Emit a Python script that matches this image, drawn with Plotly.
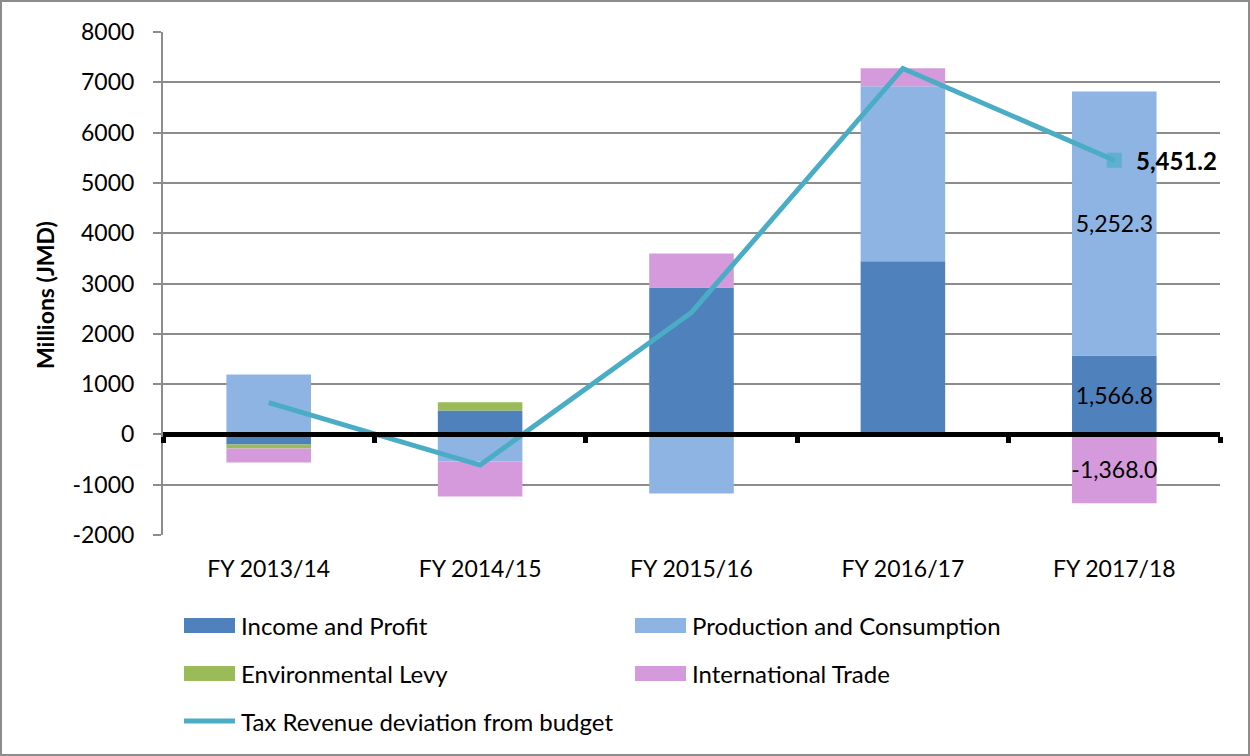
import plotly.graph_objects as go

categories = ["FY 2013/14", "FY 2014/15", "FY 2015/16", "FY 2016/17", "FY 2017/18"]
income_profit = [-200, 477, 2922, 3440, 1566.8]
production_consumption = [1193, -537, -1173, 3479, 5252.3]
environmental_levy = [-80, 160, 0, 0, 0]
international_trade = [-280, -696, 676, 358, -1368.0]
tax_revenue_deviation = [630, -610, 2425, 7276, 5451.2]
y_ticks = [-2000, -1000, 0, 1000, 2000, 3000, 4000, 5000, 6000, 7000, 8000]
y_tick_labels = [str(v) for v in y_ticks]

FONT = "Lato"
FS = 23
C_INC = "#4F81BD"
C_PROD = "#8EB4E3"
C_ENV = "#9BBB59"
C_INTL = "#D59ADC"
C_LINE = "#4BACC6"
C_GRID = "#8C8C8C"

def lab(vals, idx):
    return [f"{v:,.1f}" if i == idx else "" for i, v in enumerate(vals)]

fig = go.Figure()
bar_common = dict(width=0.4, textposition="inside", insidetextanchor="middle",
                  constraintext="none", textangle=0,
                  textfont=dict(family=FONT, size=FS, color="black"),
                  showlegend=False, hoverinfo="skip")
fig.add_trace(go.Bar(x=categories, y=income_profit, name="Income and Profit",
                     marker=dict(color=C_INC, line=dict(width=0)),
                     text=lab(income_profit, 4), **bar_common))
fig.add_trace(go.Bar(x=categories, y=production_consumption, name="Production and Consumption",
                     marker=dict(color=C_PROD, line=dict(width=0)),
                     text=lab(production_consumption, 4), **bar_common))
fig.add_trace(go.Bar(x=categories, y=environmental_levy, name="Environmental Levy",
                     marker=dict(color=C_ENV, line=dict(width=0)),
                     text=["" for _ in categories], **bar_common))
fig.add_trace(go.Bar(x=categories, y=international_trade, name="International Trade",
                     marker=dict(color=C_INTL, line=dict(width=0)),
                     text=lab(international_trade, 4), **bar_common))

n = len(categories)
fig.add_trace(go.Scatter(
    x=categories, y=tax_revenue_deviation, mode="lines+markers",
    line=dict(color=C_LINE, width=5),
    marker=dict(symbol="square", size=[0] * (n - 1) + [15], color=C_LINE, line=dict(width=0)),
    showlegend=False, hoverinfo="skip"))
fig.add_annotation(x=categories[-1], y=tax_revenue_deviation[-1],
                   text=f"<b>{tax_revenue_deviation[-1]:,.1f}</b>", showarrow=False,
                   xanchor="left", yanchor="middle", xshift=20,
                   font=dict(family=FONT, size=24, color="black"))

# dummy trace for the zero-crossing category axis
fig.add_trace(go.Scatter(x=[0], y=[0], xaxis="x2", mode="markers",
                         marker=dict(size=0, opacity=0), showlegend=False, hoverinfo="skip"))

ymin, ymax = -2000, 8000
zero_pos = (0 - ymin) / (ymax - ymin)

fig.update_layout(
    width=1250, height=756,
    margin=dict(l=163, r=30, t=32, b=221),
    paper_bgcolor="white", plot_bgcolor="white",
    barmode="relative",
    font=dict(family=FONT, size=FS, color="black"),
    xaxis=dict(type="category", range=[-0.5, n - 0.5], showgrid=False, showline=False,
               ticks="", tickfont=dict(family=FONT, size=FS), ticklabelstandoff=18,
               zeroline=False),
    xaxis2=dict(overlaying="x", anchor="free", position=zero_pos, range=[-0.5, n - 0.5],
                tickvals=[i - 0.5 for i in range(n + 1)], showticklabels=False,
                showline=True, linecolor="black", linewidth=5,
                ticks="outside", ticklen=6, tickwidth=5, tickcolor="black",
                showgrid=False, zeroline=False),
    yaxis=dict(range=[ymin, ymax], tickvals=y_ticks, ticktext=y_tick_labels,
               showgrid=True, gridcolor=C_GRID,
               gridwidth=2, showline=True, linecolor=C_GRID, linewidth=2,
               ticks="outside", ticklen=8, tickcolor=C_GRID, tickwidth=2,
               zeroline=False, tickfont=dict(family=FONT, size=FS), ticklabelstandoff=14),
)

# outer chart border and helpers
W, H = 1250, 756
pl, pt, pw, ph = 163, 32, 1250 - 163 - 30, 756 - 32 - 221
def px(x):
    return (x - pl) / pw
def py(y):
    return (pt + ph - y) / ph
fig.add_shape(type="rect", xref="paper", yref="paper", x0=px(1), x1=px(W - 1), y0=py(H - 1), y1=py(1),
              line=dict(color=C_GRID, width=2), layer="below")

# y-axis title
fig.add_annotation(xref="paper", yref="paper", x=px(45), y=py(295), text="<b>Millions (JMD)</b>",
                   textangle=-90, showarrow=False, xanchor="center", yanchor="middle",
                   font=dict(family=FONT, size=FS, color="black"))

# manual legend
legend_items = [
    ("Income and Profit", C_INC, "bar", 184, 625.5),
    ("Production and Consumption", C_PROD, "bar", 635, 625.5),
    ("Environmental Levy", C_ENV, "bar", 184, 673.5),
    ("International Trade", C_INTL, "bar", 635, 673.5),
    ("Tax Revenue deviation from budget", C_LINE, "line", 184, 721),
]
for name, color, kind, x, y in legend_items:
    if kind == "bar":
        fig.add_shape(type="rect", xref="paper", yref="paper", x0=px(x), x1=px(x + 51),
                      y0=py(y + 7.5), y1=py(y - 7.5), fillcolor=color, line=dict(width=0))
    else:
        fig.add_shape(type="line", xref="paper", yref="paper", x0=px(x), x1=px(x + 51),
                      y0=py(y), y1=py(y), line=dict(color=color, width=5))
    fig.add_annotation(xref="paper", yref="paper", x=px(x + 55), y=py(y), text=name,
                       showarrow=False, xanchor="left", yanchor="middle",
                       font=dict(family=FONT, size=24, color="black"))

fig.write_html("out.html", config={"displayModeBar": False},
               post_script="document.body.style.margin='0';")
